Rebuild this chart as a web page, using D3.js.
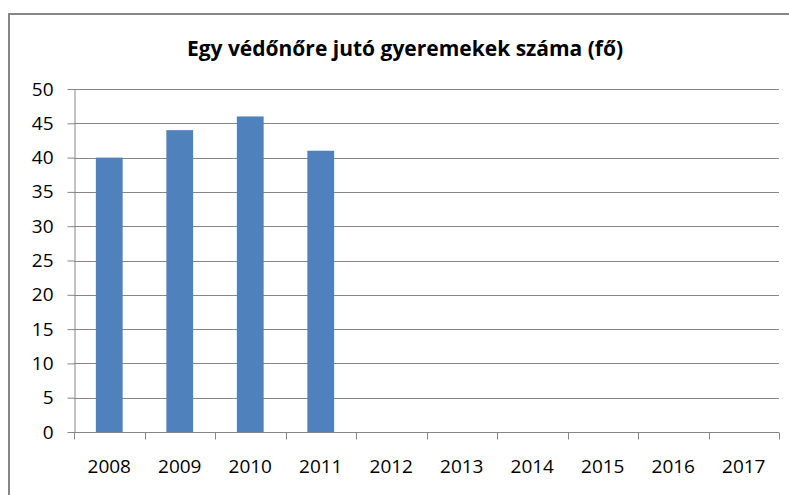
<!DOCTYPE html>
<html>
<head>
<meta charset="utf-8">
<script src="https://cdn.jsdelivr.net/npm/d3@7"></script>
<style>
  body { margin: 0; background: #fff; }
  svg { display: block; }
</style>
</head>
<body>
<div id="chart"></div>
<script>
const title = 'Egy védőnőre jutó gyeremekek száma (fő)';
const years = ['2008', '2009', '2010', '2011', '2012', '2013', '2014', '2015', '2016', '2017'];
const values = [40, 44, 46, 41, null, null, null, null, null, null];
const yTicks = [0, 5, 10, 15, 20, 25, 30, 35, 40, 45, 50];

const W = 789, H = 495;
const margin = { top: 89, right: 10, bottom: 63, left: 74 };
const width = W - margin.left - margin.right;
const height = H - margin.top - margin.bottom;
const font = '"Open Sans", sans-serif';

const root = d3.select('#chart').append('svg')
  .attr('width', W)
  .attr('height', H);

// outer frame
root.append('rect')
  .attr('x', 9).attr('y', 14)
  .attr('width', W + 20).attr('height', H + 20)
  .attr('fill', 'none')
  .attr('stroke', '#868686')
  .attr('stroke-width', 2);

root.append('text')
  .attr('x', 405).attr('y', 56)
  .attr('text-anchor', 'middle')
  .attr('font-family', font)
  .attr('font-weight', 'bold')
  .attr('font-size', 21)
  .attr('fill', '#000')
  .text(title);

const svg = root.append('g')
  .attr('transform', `translate(${margin.left}, ${margin.top})`);

const x = d3.scaleBand()
  .domain(years)
  .range([0, width])
  .paddingInner(0.62)
  .paddingOuter(0.31);

const y = d3.scaleLinear()
  .domain([0, 50])
  .range([height, 0]);

// gridlines
svg.append('g')
  .selectAll('line')
  .data(yTicks.filter(d => d > 0))
  .enter().append('line')
  .attr('x1', 0).attr('x2', width)
  .attr('y1', d => Math.round(y(d)) + 0.5)
  .attr('y2', d => Math.round(y(d)) + 0.5)
  .attr('stroke', '#868686')
  .attr('stroke-width', 1);

// bars
svg.selectAll('.bar')
  .data(years.map((yr, i) => ({ yr, v: values[i] })).filter(d => d.v != null))
  .enter().append('rect')
  .attr('class', 'bar')
  .attr('x', d => x(d.yr))
  .attr('y', d => y(d.v))
  .attr('width', x.bandwidth())
  .attr('height', d => height - y(d.v))
  .attr('fill', '#4f81bd');

// y axis
const yAxis = svg.append('g')
  .attr('transform', 'translate(0.5, 0)')
  .call(d3.axisLeft(y).tickValues(yTicks).tickSize(7).tickPadding(14).tickSizeOuter(0));

// x axis with ticks at category boundaries
const xAxis = svg.append('g')
  .attr('transform', `translate(0, ${Math.round(height) + 0.5})`);
xAxis.append('line')
  .attr('x1', 0).attr('x2', width)
  .attr('stroke', '#868686');
const step = x.step();
xAxis.selectAll('.tk')
  .data(d3.range(years.length + 1))
  .enter().append('line')
  .attr('x1', i => Math.round(i * step) + 0.5)
  .attr('x2', i => Math.round(i * step) + 0.5)
  .attr('y1', 0).attr('y2', 7)
  .attr('stroke', '#868686');
xAxis.selectAll('.lbl')
  .data(years)
  .enter().append('text')
  .attr('x', d => x(d) + x.bandwidth() / 2)
  .attr('y', 40)
  .attr('text-anchor', 'middle')
  .attr('font-family', font)
  .attr('font-size', 19)
  .attr('fill', '#000')
  .text(d => d);

yAxis.select('.domain').attr('stroke', '#868686');
yAxis.selectAll('.tick line').attr('stroke', '#868686');
yAxis.selectAll('.tick text')
  .attr('font-family', font)
  .attr('font-size', 19)
  .attr('fill', '#000');
</script>
</body>
</html>
